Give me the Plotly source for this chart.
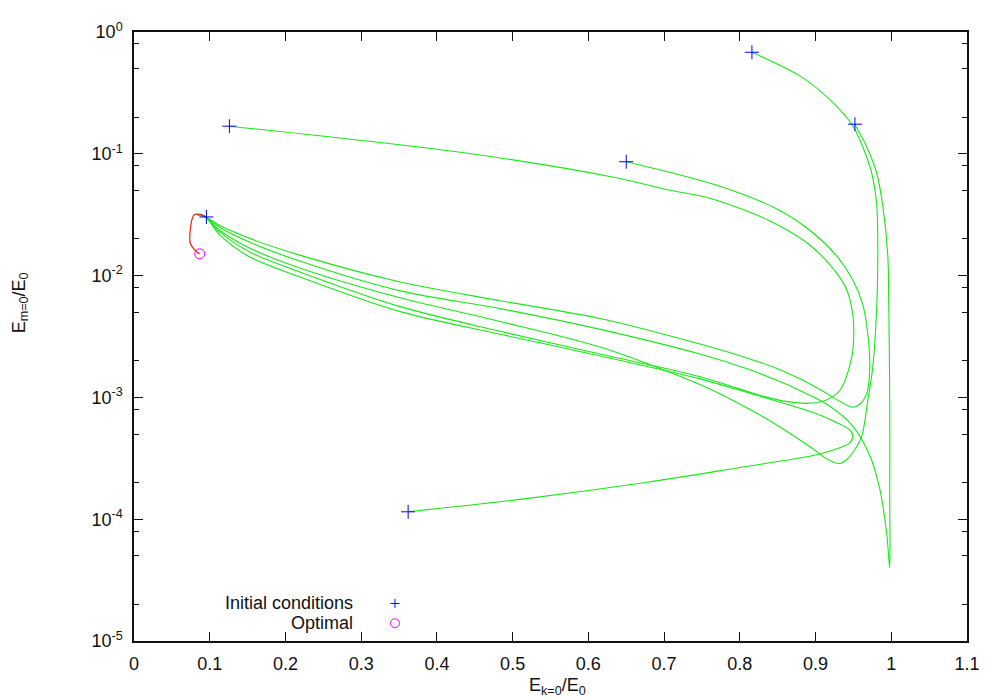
import plotly.graph_objects as go

# trajectories (E_k=0/E_0 , E_m=0/E_0)
traj1_x = [0.8160, 0.8793, 0.9188, 0.9479, 0.9624, 0.9743, 0.9809, 0.9822, 0.9809, 0.9756,
           0.9690, 0.9611, 0.9518, 0.9413, 0.9320, 0.9162, 0.8964, 0.8529, 0.8133, 0.7474,
           0.6155, 0.4835, 0.3516, 0.2197, 0.1537, 0.1141, 0.0943, 0.0825]
traj1_y = [0.682, 0.4361, 0.2789, 0.1749, 0.1139, 0.0689, 0.0372, 0.01466, 0.00577, 0.00178,
           0.000946, 0.000483, 0.000372, 0.000309, 0.000287, 0.000309, 0.000379, 0.000572, 0.000796, 0.001274,
           0.002588, 0.00420, 0.00657, 0.01150, 0.01670, 0.02335, 0.03032, 0.03177]

traj2_x = [0.9518, 0.9677, 0.9809, 0.9888, 0.9954, 0.9967, 0.9980, 0.9980, 0.9980, 0.9941,
           0.9848, 0.9716, 0.9492, 0.9149, 0.8793, 0.8529, 0.8133, 0.7474, 0.6155, 0.4835,
           0.3516, 0.2197, 0.1537, 0.1141, 0.0943, 0.0825]
traj2_y = [0.1749, 0.1139, 0.0689, 0.0372, 0.01466, 0.00577, 0.000894, 0.000139, 3.97e-5, 7.49e-5,
           0.000177, 0.000333, 0.000582, 0.000878, 0.001139, 0.001348, 0.001686, 0.00227, 0.00362, 0.005355,
           0.00749, 0.01311, 0.01867, 0.02470, 0.03032, 0.03177]

traj3_x = [0.1260, 0.4360, 0.6352, 0.7078, 0.7606, 0.8397, 0.8898, 0.9228, 0.9413, 0.9492,
           0.9505, 0.9479, 0.9320, 0.9096, 0.8885, 0.8529, 0.8265, 0.7474, 0.6155, 0.4835,
           0.3516, 0.2197, 0.1537, 0.1141, 0.0943, 0.0825]
traj3_y = [0.1685, 0.1019, 0.0639, 0.0502, 0.0432, 0.02813, 0.01833, 0.0115, 0.00763, 0.00479,
           0.00330, 0.00215, 0.00114, 0.000928, 0.000894, 0.000946, 0.00104, 0.00148, 0.00227, 0.003487,
           0.00556, 0.01067, 0.01550, 0.02250, 0.03032, 0.03177]

traj4_x = [0.6497, 0.7698, 0.8489, 0.8964, 0.9294, 0.9492, 0.9624, 0.9690, 0.9716, 0.9677,
           0.9584, 0.9492, 0.9320, 0.9057, 0.8793, 0.8529, 0.8133, 0.7474, 0.6155, 0.4835,
           0.3516, 0.2197, 0.1537, 0.1141, 0.0943, 0.0825]
traj4_y = [0.0861, 0.0551, 0.0352, 0.02250, 0.01412, 0.00919, 0.00577, 0.00330, 0.00178, 0.00108,
           0.000878, 0.000830, 0.000928, 0.001161, 0.00142, 0.00169, 0.002069, 0.00274, 0.004444, 0.006216,
           0.00886, 0.01466, 0.02012, 0.02564, 0.03032, 0.03177]

traj5_x = [0.3621, 0.5231, 0.6774, 0.8001, 0.8964, 0.9320, 0.9452, 0.9492, 0.9452, 0.9122,
           0.8793, 0.8621, 0.8133, 0.7474, 0.6155, 0.4835, 0.3516, 0.2197, 0.1537, 0.1141,
           0.0943, 0.0825]
traj5_y = [0.000115, 0.000149, 0.000201, 0.000266, 0.000333, 0.000386, 0.000424, 0.000483, 0.000540, 0.000689,
           0.000815, 0.000878, 0.00108, 0.00142, 0.00219, 0.00330, 0.00506, 0.009725, 0.01412, 0.02128,
           0.03032, 0.03177]

opt_path_x = [0.0956, 0.0877, 0.0798, 0.0768, 0.0745, 0.0736, 0.0745, 0.0781, 0.0834, 0.0868]
opt_path_y = [0.03032, 0.03177, 0.03177, 0.02921, 0.02424, 0.02012, 0.01833, 0.01679, 0.01558, 0.01513]

init_x = [0.816, 0.952, 0.126, 0.650, 0.362, 0.0956]
init_y = [0.682, 0.175, 0.1685, 0.0861, 0.000115, 0.0303]

optimal_x = [0.0868]
optimal_y = [0.0151]

x_ticks = [0, 0.1, 0.2, 0.3, 0.4, 0.5, 0.6, 0.7, 0.8, 0.9, 1, 1.1]
y_ticks = [1e-5, 1e-4, 1e-3, 1e-2, 1e-1, 1]
y_ticktext = ["10<sup>-5</sup>", "10<sup>-4</sup>", "10<sup>-3</sup>",
              "10<sup>-2</sup>", "10<sup>-1</sup>", "10<sup>0</sup>"]
y_minor = [m * 10.0 ** e for e in range(-5, 0) for m in (2, 5, 8)]

FONT = "Liberation Sans, Arial, sans-serif"
GREEN = "#18e818"

fig = go.Figure()

for tx, ty in [(traj1_x, traj1_y), (traj2_x, traj2_y), (traj3_x, traj3_y),
               (traj4_x, traj4_y), (traj5_x, traj5_y)]:
    fig.add_trace(go.Scatter(x=tx, y=ty, mode="lines",
                             line=dict(color=GREEN, width=1.1, shape="spline", smoothing=0.9),
                             showlegend=False, hoverinfo="skip"))

fig.add_trace(go.Scatter(x=opt_path_x, y=opt_path_y, mode="lines",
                         line=dict(color="#e82000", width=1.2, shape="spline", smoothing=0.8),
                         showlegend=False))

fig.add_trace(go.Scatter(x=init_x, y=init_y, mode="markers", name="Initial conditions",
                         marker=dict(symbol="cross-thin", size=10, color="#0000ff",
                                     line=dict(width=1, color="#0000ff")),
                         showlegend=False))

fig.add_trace(go.Scatter(x=optimal_x, y=optimal_y, mode="markers", name="Optimal",
                         marker=dict(symbol="circle-open", size=10, color="#ff00ff",
                                     line=dict(width=1, color="#ff00ff")),
                         showlegend=False))

axis_style = dict(showline=True, linecolor="#111", linewidth=1.5, mirror="ticks",
                  ticks="inside", ticklen=9, tickwidth=1, tickcolor="#111",
                  showgrid=False, zeroline=False,
                  tickfont=dict(family=FONT, size=18, color="#111"))

fig.update_xaxes(range=[0, 1.1], tickvals=x_ticks, ticklabelstandoff=6, **axis_style)
fig.update_yaxes(type="log", range=[-5, 0], tickvals=y_ticks, ticktext=y_ticktext,
                 ticklabelstandoff=6,
                 minor=dict(tickmode="array", tickvals=y_minor, ticks="inside",
                            ticklen=5, tickwidth=1, tickcolor="#111"),
                 **axis_style)

# gnuplot-style key: label right-aligned, sample to its right
key_text_x = 0.2653
key_mark_x = 0.3133
key_rows = [0.0616, 0.0292]
fig.add_annotation(x=key_text_x, y=key_rows[0], xref="paper", yref="paper", xanchor="right",
                   yanchor="middle", showarrow=False, text="Initial conditions",
                   font=dict(family=FONT, size=18, color="#111"))
fig.add_annotation(x=key_text_x, y=key_rows[1], xref="paper", yref="paper", xanchor="right",
                   yanchor="middle", showarrow=False, text="Optimal",
                   font=dict(family=FONT, size=18, color="#111"))
dx, dy = 0.0054, 0.0073
fig.add_shape(type="line", xref="paper", yref="paper", x0=key_mark_x - dx, x1=key_mark_x + dx,
              y0=key_rows[0], y1=key_rows[0], line=dict(color="#0000ff", width=1))
fig.add_shape(type="line", xref="paper", yref="paper", x0=key_mark_x, x1=key_mark_x,
              y0=key_rows[0] - dy, y1=key_rows[0] + dy, line=dict(color="#0000ff", width=1))
fig.add_shape(type="circle", xref="paper", yref="paper", x0=key_mark_x - dx, x1=key_mark_x + dx,
              y0=key_rows[1] - dy, y1=key_rows[1] + dy, line=dict(color="#ff00ff", width=1))

# axis labels
fig.add_annotation(x=0.508, y=-0.0745, xref="paper", yref="paper", xanchor="center",
                   yanchor="middle", showarrow=False, text="E<sub>k=0</sub>/E<sub>0</sub>",
                   font=dict(family=FONT, size=18, color="#111"))
fig.add_annotation(x=-0.1369, y=0.556, xref="paper", yref="paper", xanchor="center",
                   yanchor="middle", showarrow=False, textangle=-90,
                   text="E<sub>m=0</sub>/E<sub>0</sub>",
                   font=dict(family=FONT, size=18, color="#111"))

# the page body adds an 8 px offset, so the figure is drawn 8 px smaller
fig.update_layout(width=992, height=692, margin=dict(l=126, r=33, t=16, b=59),
                  plot_bgcolor="white", paper_bgcolor="white", showlegend=False)

fig.write_html("out.html")
